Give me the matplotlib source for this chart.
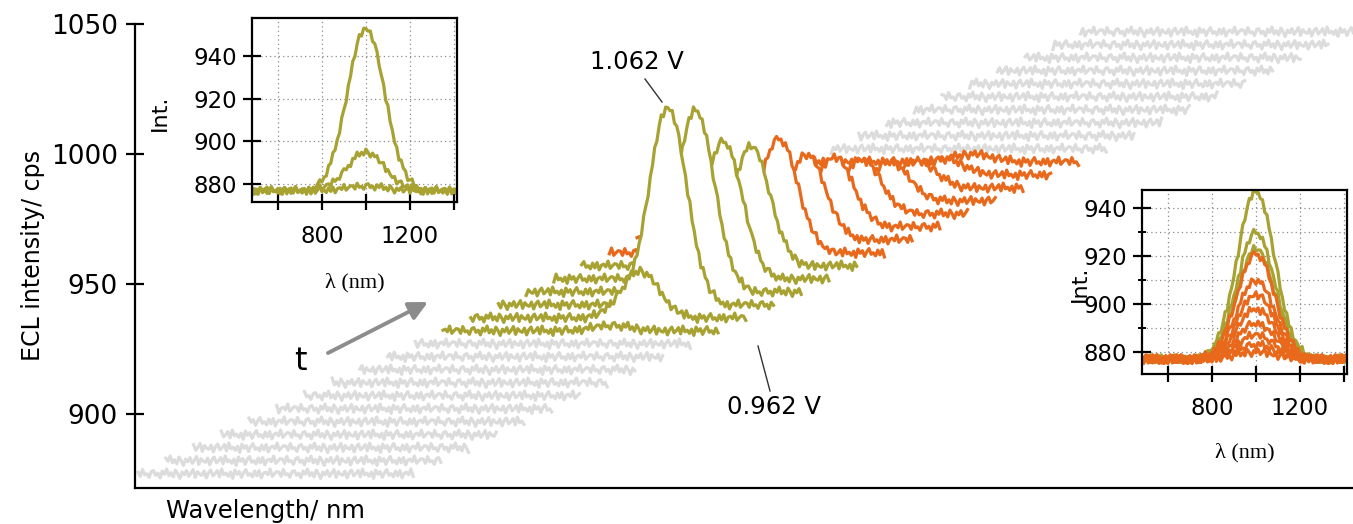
import numpy as np
import matplotlib
matplotlib.use("Agg")
import matplotlib.pyplot as plt
from matplotlib.ticker import FixedLocator

# ── 1. DATA ───────────────────────────────────────────────────────────────────
WAVELENGTH = np.arange(230, 1490, 10)          # nm, 230 .. 1480
BASELINE   = 877.0                             # cps, dark level
PEAK_START = 760                               # nm, first point of the band
# normalised ECL band (10 nm steps from 760 to 1240 nm)
PEAK_PROFILE = [0.02, 0.03, 0.03, 0.05, 0.06, 0.08, 0.11, 0.14, 0.17, 0.21,
                0.26, 0.31, 0.37, 0.43, 0.50, 0.57, 0.64, 0.71, 0.78, 0.84,
                0.90, 0.94, 0.97, 0.99, 1.00, 0.99, 0.97, 0.94, 0.90, 0.84,
                0.78, 0.71, 0.64, 0.57, 0.50, 0.43, 0.37, 0.31, 0.26, 0.21,
                0.17, 0.14, 0.11, 0.08, 0.06, 0.05, 0.03, 0.03, 0.02]
# peak height above baseline for each of the 35 spectra (front -> back)
AMPLITUDE = ([0] * 11 +
             [2, 18, 76, 70, 53, 46] +               # rising potential
             [44, 33, 27, 21, 15, 10, 6, 3] +        # decaying
             [0] * 10)
GROUP = ["before"] * 11 + ["rise"] * 6 + ["decay"] * 8 + ["after"] * 10
# detector noise, read as a repeating pattern (tenths of a count scale)
JITTER = [3, -5, 8, -2, 0, -7, 4, 6, -3, 1, -8, 5, -1, 9, -4, 2,
          -6, 7, 0, -9, 3, -2, 6, -5, 1, 8, -7, 4, -1, -3, 5, -8,
          2, 7, -4, 0, 6, -6, 9, -2, 1, -5, 3, -9, 7, -1, 4, -7,
          2, 8, -3, 0, -6, 5, -4, 6, -8, 1, 3, -2, 9, -5, 0, 4]
NOISE   = 0.2
X_SHIFT = 126      # nm offset per spectrum in the waterfall
Y_SHIFT = 5.0      # cps offset per spectrum
LEFT_INSET  = [11, 12, 13]
RIGHT_INSET = list(range(14, 25))

Y_TICKS     = [900, 950, 1000, 1050]
INSET_XTICK = [600, 800, 1000, 1200, 1400]
INSET_XLAB  = ["", "800", "", "1200", ""]
INSET_YTICK = [880, 900, 920, 940]

COLORS = {"before": "#dcdcdc", "rise": "#a7a232", "decay": "#e8691c",
          "after": "#dcdcdc"}

# ── 2. BUILD SPECTRA ──────────────────────────────────────────────────────────
profile = np.zeros(len(WAVELENGTH))
i0 = int(np.where(WAVELENGTH == PEAK_START)[0][0])
profile[i0:i0 + len(PEAK_PROFILE)] = PEAK_PROFILE
jit = np.array(JITTER, dtype=float)
idx = np.arange(len(WAVELENGTH))


def spectrum(i):
    return BASELINE + AMPLITUDE[i] * profile + NOISE * jit[(idx + 11 * i) % len(jit)]


# ── 3. PLOT ───────────────────────────────────────────────────────────────────
plt.rcParams["font.family"] = "DejaVu Sans"
W, H = 1353, 524
fig = plt.figure(figsize=(W / 100, H / 100), dpi=100)


def fx(px):
    return px / W


def fy(py):
    return 1 - py / H


ax = fig.add_axes([fx(135), fy(488), 1218 / W, 464 / H])
YMIN = 871.5
ax.set_xlim(216, 5752)
ax.set_ylim(YMIN, 1050)

n = len(AMPLITUDE)
for i in range(n):
    x = WAVELENGTH + i * X_SHIFT
    y = spectrum(i) + i * Y_SHIFT
    z = 10 + 2 * (n - i)
    # hidden-line waterfall: each front trace masks what lies below it
    ax.fill_between(x, y, YMIN, color="white", lw=0, zorder=z)
    ax.plot(x, y, color=COLORS[GROUP[i]], lw=2.3, zorder=z + 1)

for side in ["top", "right"]:
    ax.spines[side].set_visible(False)
for side in ["left", "bottom"]:
    ax.spines[side].set_linewidth(1.6)
    ax.spines[side].set_zorder(500)
ax.set_yticks(Y_TICKS)
ax.tick_params(axis="y", direction="inout", length=13, width=1.6,
               labelsize=19, pad=6)
ax.tick_params(axis="x", length=0, labelbottom=False)

fig.text(fx(33), fy(256), "ECL intensity/ cps", rotation=90,
         ha="center", va="center", fontsize=17)
fig.text(fx(265), fy(511), "Wavelength/ nm", ha="center", va="center",
         fontsize=17.5)

# annotations
fig.text(fx(637), fy(62), "1.062 V", ha="center", va="center", fontsize=17.5)
fig.text(fx(774), fy(407), "0.962 V", ha="center", va="center", fontsize=17.5)
fig.add_artist(plt.Line2D([fx(645), fx(662)], [fy(79), fy(102)],
                          color="#333333", lw=1))
fig.add_artist(plt.Line2D([fx(758), fx(770)], [fy(346), fy(391)],
                          color="#333333", lw=1))
fig.text(fx(300), fy(362), "t", ha="center", va="center", fontsize=23)
ax.annotate("", xy=(fx(428), fy(302)), xytext=(fx(328), fy(353)),
            xycoords="figure fraction", textcoords="figure fraction",
            arrowprops=dict(arrowstyle="-|>", color="#8c8c8c", lw=2.8,
                            mutation_scale=28, shrinkA=0, shrinkB=0))


# ── 4. INSETS ─────────────────────────────────────────────────────────────────
def style_inset(a, ymin, ymax, minor=None):
    a.set_xlim(482, 1414)
    a.set_ylim(ymin, ymax)
    a.set_xticks(INSET_XTICK, INSET_XLAB)
    a.set_yticks(INSET_YTICK)
    if minor:
        a.yaxis.set_minor_locator(FixedLocator(minor))
        a.tick_params(axis="y", which="minor", direction="inout",
                      length=6, width=1.4)
        a.grid(True, which="minor", axis="y", color="#8a8a8a",
               linestyle=(0, (1, 2.5)), lw=0.9)
    a.grid(True, which="major", color="#8a8a8a", linestyle=(0, (1, 2.5)),
           lw=0.9)
    a.set_axisbelow(True)
    a.tick_params(axis="y", direction="inout", length=13, width=1.6,
                  labelsize=16.5, pad=4)
    a.tick_params(axis="x", direction="inout", length=11, width=1.6,
                  labelsize=16.5, pad=11)
    for s in a.spines.values():
        s.set_linewidth(1.6)


ins1 = fig.add_axes([fx(252), fy(202), 205 / W, 184 / H])
for i in LEFT_INSET:
    ins1.plot(WAVELENGTH, spectrum(i), color=COLORS[GROUP[i]], lw=2.3)
style_inset(ins1, 871.6, 957.8)

ins2 = fig.add_axes([fx(1142), fy(374), 205 / W, 184 / H])
for i in RIGHT_INSET:
    ins2.plot(WAVELENGTH, spectrum(i), color=COLORS[GROUP[i]], lw=2.3)
style_inset(ins2, 870.8, 947.5, minor=[890, 910, 930])

for cx, cy in [(160, 113), (1080, 284)]:
    fig.text(fx(cx), fy(cy), "Int.", rotation=90, ha="center", va="center",
             fontsize=16)
for cx, cy in [(355, 283), (1245, 453)]:
    fig.text(fx(cx), fy(cy), "λ (nm)", ha="center", va="center",
             fontsize=16, family="Liberation Serif")

fig.savefig("out.png", dpi=100)
